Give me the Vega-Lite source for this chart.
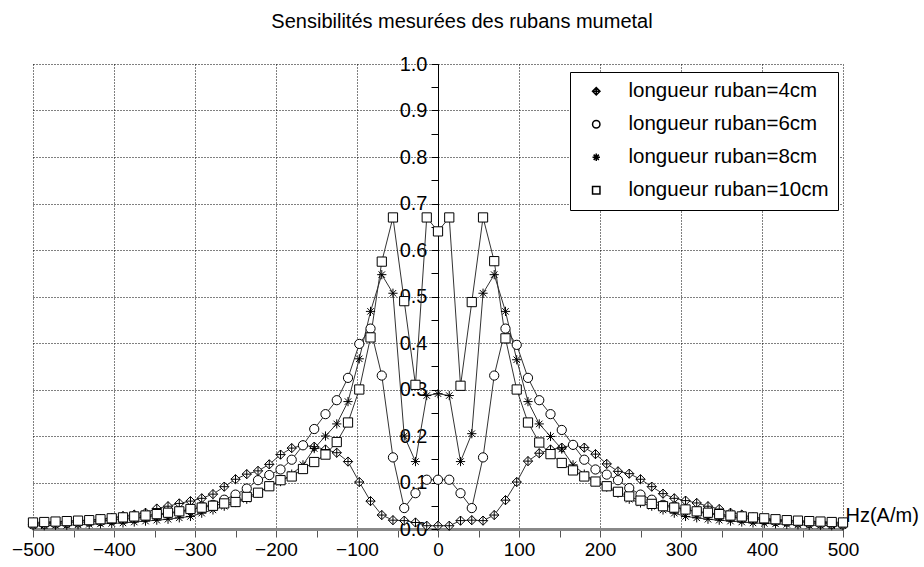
{
  "$schema": "https://vega.github.io/schema/vega-lite/v6.json",
  "width": 810,
  "height": 465,
  "autosize": {"type": "none"},
  "padding": {"left": 33, "top": 64, "right": 81, "bottom": 38},
  "background": "white",
  "title": {"text": "Sensibilités mesurées des rubans mumetal", "font": "Liberation Sans", "fontSize": 20, "fontWeight": "normal", "color": "black", "anchor": "middle", "frame": "group", "dx": 24, "offset": 6, "baseline": "alphabetic"},
  "config": {"view": {"stroke": null}},
  "data": {"values": [
    {"h": -500, "r4": 0.012, "r6": 0.010, "r8": 0.007, "r10": 0.014},
    {"h": -486.1, "r4": 0.013, "r6": 0.011, "r8": 0.007, "r10": 0.015},
    {"h": -472.2, "r4": 0.015, "r6": 0.012, "r8": 0.008, "r10": 0.016},
    {"h": -458.3, "r4": 0.016, "r6": 0.013, "r8": 0.008, "r10": 0.017},
    {"h": -444.4, "r4": 0.018, "r6": 0.014, "r8": 0.009, "r10": 0.018},
    {"h": -430.6, "r4": 0.019, "r6": 0.016, "r8": 0.010, "r10": 0.019},
    {"h": -416.7, "r4": 0.021, "r6": 0.017, "r8": 0.011, "r10": 0.021},
    {"h": -402.8, "r4": 0.024, "r6": 0.019, "r8": 0.012, "r10": 0.023},
    {"h": -388.9, "r4": 0.028, "r6": 0.021, "r8": 0.013, "r10": 0.025},
    {"h": -375, "r4": 0.031, "r6": 0.023, "r8": 0.015, "r10": 0.027},
    {"h": -361.1, "r4": 0.035, "r6": 0.026, "r8": 0.017, "r10": 0.029},
    {"h": -347.2, "r4": 0.044, "r6": 0.029, "r8": 0.019, "r10": 0.032},
    {"h": -333.3, "r4": 0.049, "r6": 0.033, "r8": 0.021, "r10": 0.035},
    {"h": -319.4, "r4": 0.055, "r6": 0.037, "r8": 0.024, "r10": 0.038},
    {"h": -305.6, "r4": 0.060, "r6": 0.041, "r8": 0.027, "r10": 0.043},
    {"h": -291.7, "r4": 0.066, "r6": 0.048, "r8": 0.034, "r10": 0.046},
    {"h": -277.8, "r4": 0.075, "r6": 0.052, "r8": 0.041, "r10": 0.050},
    {"h": -263.9, "r4": 0.091, "r6": 0.063, "r8": 0.049, "r10": 0.055},
    {"h": -250, "r4": 0.107, "r6": 0.074, "r8": 0.057, "r10": 0.058},
    {"h": -236.1, "r4": 0.118, "r6": 0.087, "r8": 0.064, "r10": 0.069},
    {"h": -222.2, "r4": 0.125, "r6": 0.105, "r8": 0.077, "r10": 0.078},
    {"h": -208.3, "r4": 0.139, "r6": 0.116, "r8": 0.092, "r10": 0.092},
    {"h": -194.4, "r4": 0.160, "r6": 0.128, "r8": 0.102, "r10": 0.105},
    {"h": -180.6, "r4": 0.174, "r6": 0.149, "r8": 0.118, "r10": 0.113},
    {"h": -166.7, "r4": 0.180, "r6": 0.180, "r8": 0.138, "r10": 0.129},
    {"h": -152.8, "r4": 0.177, "r6": 0.215, "r8": 0.173, "r10": 0.144},
    {"h": -138.9, "r4": 0.171, "r6": 0.247, "r8": 0.200, "r10": 0.160},
    {"h": -125, "r4": 0.164, "r6": 0.277, "r8": 0.226, "r10": 0.187},
    {"h": -111.1, "r4": 0.145, "r6": 0.325, "r8": 0.274, "r10": 0.229},
    {"h": -97.2, "r4": 0.101, "r6": 0.398, "r8": 0.366, "r10": 0.300},
    {"h": -83.3, "r4": 0.060, "r6": 0.431, "r8": 0.468, "r10": 0.412},
    {"h": -69.4, "r4": 0.030, "r6": 0.330, "r8": 0.547, "r10": 0.575},
    {"h": -55.6, "r4": 0.019, "r6": 0.154, "r8": 0.507, "r10": 0.670},
    {"h": -41.7, "r4": 0.018, "r6": 0.045, "r8": 0.200, "r10": 0.490},
    {"h": -27.8, "r4": 0.014, "r6": 0.077, "r8": 0.145, "r10": 0.310},
    {"h": -13.9, "r4": 0.007, "r6": 0.106, "r8": 0.287, "r10": 0.670},
    {"h": 0, "r4": 0.007, "r6": 0.106, "r8": 0.291, "r10": 0.640},
    {"h": 13.9, "r4": 0.007, "r6": 0.106, "r8": 0.287, "r10": 0.670},
    {"h": 27.8, "r4": 0.018, "r6": 0.077, "r8": 0.145, "r10": 0.308},
    {"h": 41.7, "r4": 0.019, "r6": 0.045, "r8": 0.205, "r10": 0.488},
    {"h": 55.6, "r4": 0.018, "r6": 0.154, "r8": 0.507, "r10": 0.670},
    {"h": 69.4, "r4": 0.030, "r6": 0.330, "r8": 0.547, "r10": 0.576},
    {"h": 83.3, "r4": 0.062, "r6": 0.431, "r8": 0.468, "r10": 0.410},
    {"h": 97.2, "r4": 0.101, "r6": 0.396, "r8": 0.364, "r10": 0.300},
    {"h": 111.1, "r4": 0.146, "r6": 0.325, "r8": 0.274, "r10": 0.229},
    {"h": 125, "r4": 0.163, "r6": 0.277, "r8": 0.226, "r10": 0.186},
    {"h": 138.9, "r4": 0.171, "r6": 0.247, "r8": 0.199, "r10": 0.161},
    {"h": 152.8, "r4": 0.175, "r6": 0.213, "r8": 0.172, "r10": 0.142},
    {"h": 166.7, "r4": 0.181, "r6": 0.181, "r8": 0.138, "r10": 0.126},
    {"h": 180.6, "r4": 0.175, "r6": 0.149, "r8": 0.118, "r10": 0.113},
    {"h": 194.4, "r4": 0.161, "r6": 0.128, "r8": 0.102, "r10": 0.102},
    {"h": 208.3, "r4": 0.140, "r6": 0.117, "r8": 0.090, "r10": 0.092},
    {"h": 222.2, "r4": 0.124, "r6": 0.105, "r8": 0.077, "r10": 0.080},
    {"h": 236.1, "r4": 0.119, "r6": 0.088, "r8": 0.064, "r10": 0.070},
    {"h": 250, "r4": 0.107, "r6": 0.074, "r8": 0.056, "r10": 0.061},
    {"h": 263.9, "r4": 0.091, "r6": 0.063, "r8": 0.049, "r10": 0.054},
    {"h": 277.8, "r4": 0.076, "r6": 0.052, "r8": 0.041, "r10": 0.049},
    {"h": 291.7, "r4": 0.066, "r6": 0.048, "r8": 0.034, "r10": 0.046},
    {"h": 305.6, "r4": 0.061, "r6": 0.042, "r8": 0.027, "r10": 0.042},
    {"h": 319.4, "r4": 0.056, "r6": 0.037, "r8": 0.024, "r10": 0.038},
    {"h": 333.3, "r4": 0.049, "r6": 0.033, "r8": 0.021, "r10": 0.035},
    {"h": 347.2, "r4": 0.043, "r6": 0.029, "r8": 0.019, "r10": 0.032},
    {"h": 361.1, "r4": 0.035, "r6": 0.026, "r8": 0.017, "r10": 0.029},
    {"h": 375, "r4": 0.031, "r6": 0.023, "r8": 0.015, "r10": 0.027},
    {"h": 388.9, "r4": 0.025, "r6": 0.021, "r8": 0.013, "r10": 0.025},
    {"h": 402.8, "r4": 0.022, "r6": 0.019, "r8": 0.012, "r10": 0.023},
    {"h": 416.7, "r4": 0.019, "r6": 0.017, "r8": 0.011, "r10": 0.021},
    {"h": 430.6, "r4": 0.018, "r6": 0.016, "r8": 0.010, "r10": 0.019},
    {"h": 444.4, "r4": 0.017, "r6": 0.014, "r8": 0.009, "r10": 0.018},
    {"h": 458.3, "r4": 0.016, "r6": 0.013, "r8": 0.008, "r10": 0.017},
    {"h": 472.2, "r4": 0.015, "r6": 0.012, "r8": 0.008, "r10": 0.016},
    {"h": 486.1, "r4": 0.013, "r6": 0.011, "r8": 0.007, "r10": 0.015},
    {"h": 500, "r4": 0.012, "r6": 0.010, "r8": 0.007, "r10": 0.014}
  ]},
  "transform": [{"fold": ["r4", "r6", "r8", "r10"], "as": ["ruban", "S"]}],
  "encoding": {
    "x": {
      "field": "h", "type": "quantitative",
      "scale": {"domain": [-500, 500], "nice": false, "zero": false},
      "axis": {
        "values": [-500, -450, -400, -350, -300, -250, -200, -150, -100, -50, 0, 50, 100, 150, 200, 250, 300, 350, 400, 450, 500],
        "labelExpr": "datum.value % 100 == 0 ? format(datum.value, 'd') : ''",
        "labelFont": "Liberation Sans", "labelFontSize": 19, "labelColor": "black", "labelPadding": 3,
        "labelFlush": false, "labelOverlap": false,
        "domainColor": "#888888", "domainWidth": 3,
        "tickColor": "#555555", "tickSize": 8, "tickWidth": 1,
        "grid": true, "gridColor": "black", "gridDash": [1, 2], "gridWidth": 1,
        "gridOpacity": {"condition": {"test": "datum.value % 100 != 0", "value": 0}, "value": 1},
        "title": "Hz(A/m)", "titleFont": "Liberation Sans", "titleFontSize": 20, "titleFontWeight": "normal", "titleColor": "black",
        "titleX": 812, "titleY": -8, "titleAlign": "left", "titleBaseline": "alphabetic", "titleAnchor": "start"
      }
    },
    "y": {
      "field": "S", "type": "quantitative",
      "scale": {"domain": [0, 1], "nice": false},
      "axis": {
        "orient": "left", "offset": -405,
        "values": [0, 0.05, 0.1, 0.15, 0.2, 0.25, 0.3, 0.35, 0.4, 0.45, 0.5, 0.55, 0.6, 0.65, 0.7, 0.75, 0.8, 0.85, 0.9, 0.95, 1],
        "labelExpr": "abs(datum.value * 10 - round(datum.value * 10)) < 0.01 ? format(datum.value, '.1f') : ''",
        "labelFont": "Liberation Sans", "labelFontSize": 20, "labelColor": "black", "labelPadding": 4,
        "labelFlush": false, "labelOverlap": false,
        "domainColor": "black", "domainWidth": 1,
        "tickColor": "black", "tickSize": 7, "tickWidth": 1,
        "grid": true, "gridColor": "black", "gridDash": [1, 2], "gridWidth": 1,
        "gridOpacity": {"condition": {"test": "abs(datum.value * 10 - round(datum.value * 10)) > 0.01", "value": 0}, "value": 1},
        "title": null
      }
    }
  },
  "layer": [
    {
      "mark": {"type": "line", "stroke": "#333333", "strokeWidth": 1},
      "encoding": {"detail": {"field": "ruban"}}
    },
    {
      "mark": {"type": "point", "filled": false, "color": "black", "fill": "white", "strokeWidth": 1, "opacity": 1, "size": 85},
      "encoding": {
        "shape": {
          "field": "ruban", "type": "nominal",
          "scale": {
            "domain": ["r4", "r6", "r8", "r10"],
            "range": [
              "M0,-1L1,0L0,1L-1,0Z M0,-1L0,1 M-1,0L1,0",
              "circle",
              "M0,-1L0,1 M-1,0L1,0 M-0.7,-0.7L0.7,0.7 M-0.7,0.7L0.7,-0.7",
              "square"
            ]
          },
          "legend": {
            "orient": "none", "legendX": 537, "legendY": 8,
            "title": null,
            "strokeColor": "black", "fillColor": "white", "padding": 9,
            "rowPadding": 12,
            "symbolSize": 55, "symbolOffset": 7,
            "labelOffset": 22,
            "labelFont": "Liberation Sans", "labelFontSize": 20.5, "labelColor": "black", "labelLimit": 400,
            "labelExpr": "datum.label == 'r4' ? 'longueur ruban=4cm' : datum.label == 'r6' ? 'longueur ruban=6cm' : datum.label == 'r8' ? 'longueur ruban=8cm' : 'longueur ruban=10cm'"
          }
        }
      }
    }
  ]
}
